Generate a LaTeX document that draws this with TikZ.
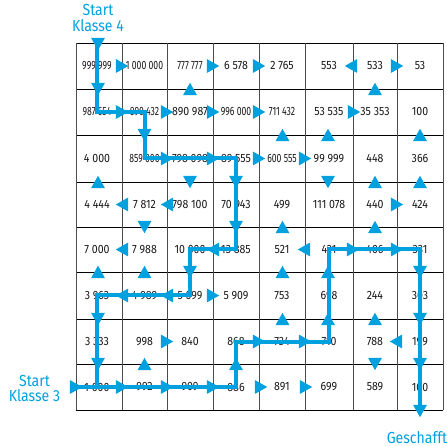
\documentclass[tikz,border=0pt]{standalone}
\usepackage{fontspec}
\setmainfont{Fira Sans}[FakeStretch=0.88]
\newfontfamily\sqfont{Fira Sans}[FakeStretch=0.72]
\definecolor{cy}{RGB}{0,161,222}
\newcommand\triR[2]{\fill[cy] (#1,#2) ++(6.2,0) -- ++(-12.4,7) -- ++(0,-14) -- cycle;}
\newcommand\triL[2]{\fill[cy] (#1,#2) ++(-6.2,0) -- ++(12.4,7) -- ++(0,-14) -- cycle;}
\newcommand\triD[2]{\fill[cy] (#1,#2) ++(0,6.2) -- ++(7,-12.4) -- ++(-14,0) -- cycle;}
\newcommand\triU[2]{\fill[cy] (#1,#2) ++(0,-6.2) -- ++(7,12.4) -- ++(-14,0) -- cycle;}
\tikzset{
  num/.style={font=\fontsize{12}{14}\selectfont, text=black!90, inner sep=0pt},
  sq/.style={num, font=\fontsize{12}{14}\sqfont},
  pathline/.style={cy, line width=4pt, line join=miter},
  lbl/.style={text=cy, font=\fontsize{16}{16}\selectfont, anchor=base, inner sep=0pt},
  hline/.style={black, line width=0.8pt},
  vline/.style={black!70, line width=0.9pt}
}
\begin{document}
\begin{tikzpicture}[x=1pt,y=-1pt]
\useasboundingbox (0,0) rectangle (447,446);
% grid
\foreach \y in {43,89,135,182,227,272,319,364,410} \draw[hline] (76,\y) -- (443,\y);
\foreach \x in {76,122,167,213,259,305,353,397,443} \draw[vline] (\x,43) -- (\x,410);
% labels
\node[lbl] (st4a) at (98,16) {Start};
\node[lbl] (st4b) at (98,32) {Klasse 4};
\node[lbl] (st3a) at (34.5,386) {Start};
\node[lbl] (st3b) at (34.5,401) {Klasse 3};
\node[lbl] (goaltxt) at (417,443) {Geschafft};
% row 1
\node[sq]  (c11) at (97,66) {999 999};
\node[sq]  (c12) at (144.5,66) {1 000 000};
\node[sq]  (c13) at (190,66) {777 777};
\node[num] (c14) at (236,66) {6 578};
\node[num] (c15) at (282,66) {2 765};
\node[num] (c16) at (329,66) {553};
\node[num] (c17) at (375,66) {533};
\node[num] (c18) at (420,66) {53};
% row 2
\node[sq]  (c21) at (97,112) {987 654};
\node[sq]  (c22) at (144.5,112) {890 432};
\node[num] (c23) at (190,112) {890 987};
\node[sq]  (c24) at (236,112) {996 000};
\node[sq]  (c25) at (282,112) {711 432};
\node[num] (c26) at (329,112) {53 535};
\node[num] (c27) at (375,112) {35 353};
\node[num] (c28) at (420,112) {100};
% row 3
\node[num] (c31) at (97,158.5) {4 000};
\node[sq]  (c32) at (144.5,158.5) {859 000};
\node[num] (c33) at (190,158.5) {798 098};
\node[num] (c34) at (236,158.5) {89 555};
\node[sq]  (c35) at (282,158.5) {600 555};
\node[num] (c36) at (329,158.5) {99 999};
\node[num] (c37) at (375,158.5) {448};
\node[num] (c38) at (420,158.5) {366};
% row 4
\node[num] (c41) at (97,204.5) {4 444};
\node[num] (c42) at (144.5,204.5) {7 812};
\node[num] (c43) at (190,204.5) {798 100};
\node[num] (c44) at (236,204.5) {70 943};
\node[num] (c45) at (282,204.5) {499};
\node[num] (c46) at (329,204.5) {111 078};
\node[num] (c47) at (375,204.5) {440};
\node[num] (c48) at (420,204.5) {424};
% row 5
\node[num] (c51) at (97,249.5) {7 000};
\node[num] (c52) at (144.5,249.5) {7 988};
\node[num] (c53) at (190,249.5) {10 000};
\node[num] (c54) at (236,249.5) {13 885};
\node[num] (c55) at (282,249.5) {521};
\node[num] (c56) at (329,249.5) {421};
\node[num] (c57) at (375,249.5) {406};
\node[num] (c58) at (420,249.5) {331};
% row 6
\node[num] (c61) at (97,295.5) {3 963};
\node[num] (c62) at (144.5,295.5) {4 989};
\node[num] (c63) at (190,295.5) {5 099};
\node[num] (c64) at (236,295.5) {5 909};
\node[num] (c65) at (282,295.5) {753};
\node[num] (c66) at (329,295.5) {698};
\node[num] (c67) at (375,295.5) {244};
\node[num] (c68) at (420,295.5) {303};
% row 7
\node[num] (c71) at (97,341.5) {3 333};
\node[num] (c72) at (144.5,341.5) {998};
\node[num] (c73) at (190,341.5) {840};
\node[num] (c74) at (236,341.5) {868};
\node[num] (c75) at (282,341.5) {734};
\node[num] (c76) at (329,341.5) {710};
\node[num] (c77) at (375,341.5) {788};
\node[num] (c78) at (420,341.5) {199};
% row 8
\node[num] (c81) at (97,387) {1 000};
\node[num] (c82) at (144.5,387) {992};
\node[num] (c83) at (190,387) {909};
\node[num] (c84) at (236,387) {886};
\node[num] (c85) at (282,387) {891};
\node[num] (c86) at (329,387) {699};
\node[num] (c87) at (375,387) {589};
\node[num] (c88) at (420,387) {100};
% path ends
\coordinate (s4) at (97,44);
\coordinate (s3) at (76,387);
\coordinate (goal) at (420,412);
\draw[pathline] (s4) -- (c11.center) -- (c21.center) -- (c22.center) -- (c32.center)
  -- (c34.center) -- (c54.center) -- (c53.center) -- (c63.center) -- (c61.center) -- (c81.center);
\draw[pathline] (s3) -- (c81.center) -- (c84.center) -- (c74.center) -- (c76.center)
  -- (c56.center) -- (c58.center) -- (c88.center) -- (goal);
% horizontal triangles
\triR{122}{66} \triR{213}{66} \triR{259}{66} \triL{351}{66} \triR{397}{66}
\triR{122}{112} \triR{167}{112} \triR{213}{112} \triR{259}{112} \triR{354}{112}
\triR{167}{158.5} \triR{213}{158.5} \triR{259}{158.5} \triR{305}{158.5}
\triL{122}{204.5} \triL{167}{204.5} \triR{397}{204.5}
\triL{122}{249.5} \triL{213}{249.5} \triL{304}{249.5} \triR{353}{249.5} \triR{397}{249.5}
\triL{122}{295.5} \triL{167}{295.5} \triR{213}{295.5}
\triR{167}{341.5} \triR{259}{341.5} \triR{305}{341.5} \triL{396}{341.5}
\triR{76}{387} \triR{122}{387} \triR{167}{387} \triR{213}{387} \triR{261}{387} \triR{306}{387}
% vertical triangles
\triD{98}{44}
\triD{98}{89} \triU{190}{89} \triU{375}{89}
\triD{144.5}{135} \triU{282.5}{135} \triU{328}{135} \triU{420}{135}
\triU{98}{182} \triD{190}{182} \triD{236}{182} \triD{328}{182} \triU{375}{182} \triU{420}{182}
\triD{144.5}{227} \triD{236}{227} \triU{282.5}{227} \triU{375}{227}
\triU{98}{272} \triU{144.5}{272} \triD{190}{272} \triU{282.5}{272} \triU{328}{272} \triD{420}{272}
\triD{98}{319} \triU{282.5}{319} \triU{328}{319} \triU{375}{319} \triD{420}{319}
\triD{98}{364} \triU{144.5}{364} \triU{236}{364} \triD{375}{364} \triD{420}{364}
\triD{420}{411}
\end{tikzpicture}
\end{document}
